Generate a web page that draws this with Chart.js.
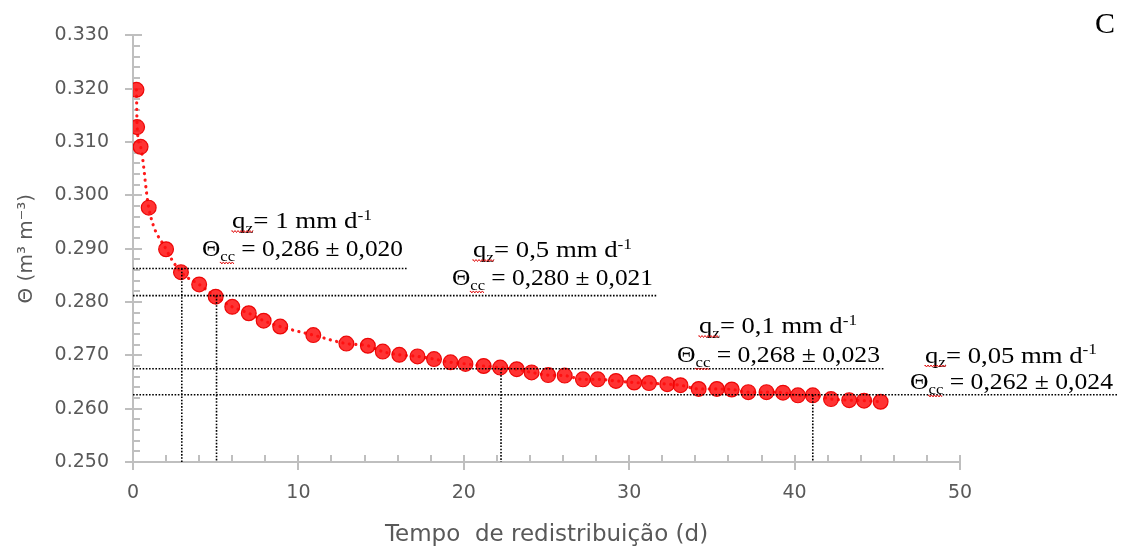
<!DOCTYPE html>
<html><head><meta charset="utf-8">
<script src="https://cdn.jsdelivr.net/npm/chart.js@4.4.1/dist/chart.umd.min.js"></script>
<style>html,body{margin:0;padding:0;background:#fff;overflow:hidden}</style>
</head><body>
<canvas id="c" width="1121" height="548" style="display:block;width:1121px;height:548px"></canvas>
<script>
// ---- data ----
const timeDays = [0.21,0.25,0.46,0.95,2,2.9,4,5,6,7,7.9,8.9,10.9,12.9,14.2,15.1,16.1,17.2,18.2,19.2,20.1,21.2,22.2,23.2,24.1,25.1,26.1,27.2,28.1,29.2,30.3,31.2,32.3,33.1,34.2,35.3,36.2,37.2,38.3,39.3,40.2,41.1,42.2,43.3,44.2,45.2];
const thetaValues = [0.3198,0.3128,0.3091,0.2977,0.2899,0.2856,0.2833,0.2810,0.2791,0.2779,0.2765,0.2754,0.2738,0.2722,0.2718,0.2707,0.2701,0.2698,0.2693,0.2687,0.2684,0.2680,0.2677,0.2674,0.2668,0.2663,0.2662,0.2655,0.2655,0.2652,0.2649,0.2648,0.2646,0.2644,0.2637,0.2637,0.2636,0.2631,0.2631,0.2630,0.2625,0.2625,0.2618,0.2616,0.2615,0.2613];
const xTickValues = [0,10,20,30,40,50];
const yTickValues = [0.250,0.260,0.270,0.280,0.290,0.300,0.310,0.320,0.330];
const fluxLabels = ['1','0,5','0,1','0,05'];
const thetaCcLabels = ['0,286 \u00b1 0,020','0,280 \u00b1 0,021','0,268 \u00b1 0,023','0,262 \u00b1 0,024'];
const thetaCcLevels = [0.2863,0.2812,0.2675,0.2626];
const thetaCcTimes = [2.95,5.05,22.25,41.1];
const levelLineEnds = [16.57,31.68,45.43,59.5];
const xTitle = 'Tempo  de redistribuição (d)';
const yTitle = 'Θ (m³ m⁻³)';
const panelLetter = 'C';

// ---- layout of annotation text (pixels: left, right, baseline) ----
const textLayout = [
  {q:[232,372,228], t:[202,403,256]},
  {q:[473,632,257], t:[452,653,285]},
  {q:[699,857,333], t:[677,880,362]},
  {q:[925,1097,362.5], t:[910,1113,389]}
];

const SERIF = '"Liberation Serif","Times New Roman",serif';
function wavy(ctx, x0, x1, y){
  ctx.save();
  ctx.strokeStyle = '#e01010'; ctx.lineWidth = 1;
  ctx.beginPath();
  let up = true; ctx.moveTo(x0, y);
  for (let x = x0; x <= x1; x += 1.5){ ctx.lineTo(x, y + (up ? -1 : 1)); up = !up; }
  ctx.stroke(); ctx.restore();
}
function drawRich(ctx, segs, left, right, baseline, size){
  const parts = segs.map(s => {
    const fs = (s.sub || s.sup) ? size*0.65 : size;
    ctx.font = fs + 'px ' + SERIF;
    return {s, fs, w: ctx.measureText(s.t).width, dy: s.sub ? size*0.22 : (s.sup ? -size*0.36 : 0)};
  });
  const total = parts.reduce((a,p)=>a+p.w,0);
  const sx = (right-left)/total;
  let x = 0;
  const waves = [];
  ctx.save();
  ctx.translate(left, baseline); ctx.scale(sx,1);
  ctx.fillStyle = '#000'; ctx.textBaseline = 'alphabetic'; ctx.textAlign = 'left';
  parts.forEach(p => {
    ctx.font = p.fs + 'px ' + SERIF;
    ctx.fillText(p.s.t, x, p.dy);
    if (p.s.wavy) waves.push([x, x+p.w, p.dy]);
    x += p.w;
  });
  ctx.restore();
  return {sx, waves};
}

const axisDecor = {
  id:'axisDecor',
  beforeDatasetsDraw(chart){
    const {ctx, scales:{x, y}} = chart;
    const ax = chart.chartArea.left, ay = chart.chartArea.bottom;
    ctx.save();
    ctx.strokeStyle = '#bfbfbf'; ctx.lineWidth = 2;
    ctx.beginPath();
    for (let i=0;i<yTickValues.length;i++){
      const py = Math.round(y.getPixelForValue(yTickValues[i]));
      ctx.moveTo(ax-8, py); ctx.lineTo(ax+9, py);
      if (i < yTickValues.length-1){
        const step = (yTickValues[i+1]-yTickValues[i])/5;
        for (let k=1;k<5;k++){
          const pm = Math.round(y.getPixelForValue(yTickValues[i]+k*step));
          ctx.moveTo(ax, pm); ctx.lineTo(ax+7, pm);
        }
      }
    }
    for (let i=0;i<xTickValues.length;i++){
      const px = Math.round(x.getPixelForValue(xTickValues[i]));
      ctx.moveTo(px, ay-7); ctx.lineTo(px, ay+8);
      if (i < xTickValues.length-1){
        const step = (xTickValues[i+1]-xTickValues[i])/5;
        for (let k=1;k<5;k++){
          const pm = Math.round(x.getPixelForValue(xTickValues[i]+k*step));
          ctx.moveTo(pm, ay-7); ctx.lineTo(pm, ay);
        }
      }
    }
    ctx.stroke();
    ctx.restore();
  },
  afterDatasetsDraw(chart){
    const {ctx, scales:{x, y}} = chart;
    ctx.save();
    ctx.strokeStyle = '#000'; ctx.lineWidth = 1.6; ctx.setLineDash([1.6,1.6]);
    for (let i=0;i<thetaCcLevels.length;i++){
      const py = y.getPixelForValue(thetaCcLevels[i]);
      const x0 = x.getPixelForValue(0), x1 = x.getPixelForValue(levelLineEnds[i]);
      ctx.beginPath(); ctx.moveTo(x0, py); ctx.lineTo(x1, py); ctx.stroke();
      const vx = x.getPixelForValue(thetaCcTimes[i]);
      ctx.beginPath(); ctx.moveTo(vx, py); ctx.lineTo(vx, y.getPixelForValue(0.25)); ctx.stroke();
    }
    ctx.restore();
  },
  afterDraw(chart){
    const ctx = chart.ctx;
    const size = 22.5;
    for (let i=0;i<textLayout.length;i++){
      const L = textLayout[i];
      const r1 = drawRich(ctx, [{t:'q',wavy:true},{t:'z',sub:true,wavy:true},{t:'= '+fluxLabels[i]+' mm d'},{t:'-1',sup:true}], L.q[0], L.q[1], L.q[2], size);
      const w1 = r1.waves;
      wavy(ctx, L.q[0]+w1[0][0]*r1.sx, L.q[0]+w1[1][1]*r1.sx, L.q[2]+3.5);
      const r2 = drawRich(ctx, [{t:'Θ'},{t:'cc',sub:true,wavy:true},{t:' = '+thetaCcLabels[i]}], L.t[0], L.t[1], L.t[2], size);
      const w2 = r2.waves;
      wavy(ctx, L.t[0]+w2[0][0]*r2.sx, L.t[0]+w2[0][1]*r2.sx, L.t[2]+w2[0][2]+2);
    }
    ctx.save();
    ctx.fillStyle = '#000'; ctx.font = '30px ' + SERIF; ctx.textBaseline='alphabetic';
    ctx.fillText(panelLetter, 1095, 33);
    ctx.restore();
  }
};

const SANS = '"DejaVu Sans", sans-serif';
new Chart(document.getElementById('c'), {
  type:'scatter',
  data:{ datasets:[{
    data: timeDays.map((t,i)=>({x:t, y:thetaValues[i]})),
    showLine:true,
    borderColor:'#ff1a1a', borderWidth:3.2, borderDash:[0.1,6.4], borderCapStyle:'round',
    cubicInterpolationMode:'monotone',
    pointRadius:7.4, pointBackgroundColor:'rgba(255,15,15,0.85)', pointBorderColor:'rgba(235,0,0,0.95)', pointBorderWidth:1.2
  }]},
  options:{
    responsive:false, animation:false, devicePixelRatio:1,
    layout:{padding:{left:0,right:161,top:24,bottom:0}},
    plugins:{legend:{display:false}, tooltip:{enabled:false}},
    scales:{
      x:{ type:'linear', min:0, max:50,
        afterBuildTicks:(s)=>{ s.ticks = xTickValues.map(v=>({value:v})); },
        afterFit:(s)=>{ s.height = 86; },
        grid:{display:false, drawTicks:false},
        border:{display:true, color:'#bfbfbf', width:2},
        ticks:{color:'#595959', font:{family:SANS, size:19}, padding:20, maxRotation:0},
        title:{display:true, text:xTitle, color:'#595959', font:{family:SANS, size:23, lineHeight:1.0}, padding:{top:0,bottom:1}}
      },
      y:{ type:'linear', min:0.25, max:0.33,
        afterBuildTicks:(s)=>{ s.ticks = yTickValues.map(v=>({value:v})); },
        afterFit:(s)=>{ s.width = 133; },
        grid:{display:false, drawTicks:false},
        border:{display:true, color:'#bfbfbf', width:2},
        ticks:{color:'#595959', font:{family:SANS, size:19}, padding:24, callback:(v)=>Number(v).toFixed(3)},
        title:{display:true, text:yTitle, color:'#595959', font:{family:SANS, size:20}, padding:{top:15,bottom:0}}
      }
    }
  },
  plugins:[axisDecor]
});
</script>
</body></html>
